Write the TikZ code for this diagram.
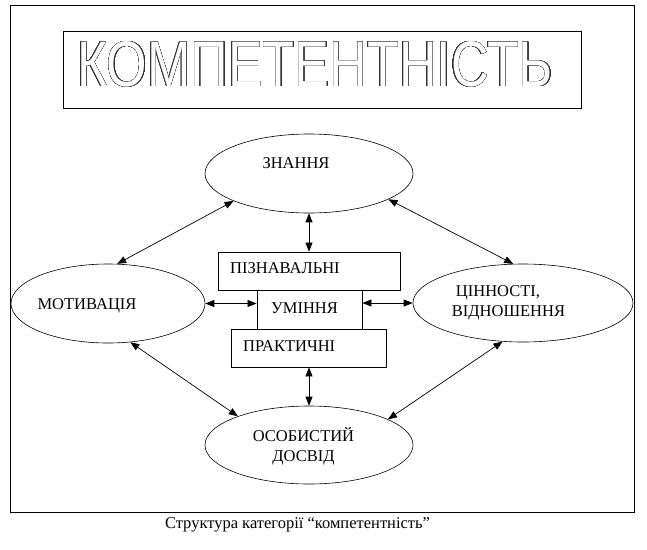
\documentclass[tikz,border=0pt]{standalone}
\usepackage{fontspec}
\usepackage[copies]{contour}
\contourlength{0.42pt}
\contournumber{48}
\setmainfont{Liberation Serif}
\newfontfamily\titlefont{Liberation Sans}
\usetikzlibrary{shapes.geometric,arrows.meta}
\tikzset{
  oval/.style={draw, ellipse, inner sep=0pt, line width=0.6pt},
  box/.style={draw, rectangle, inner sep=0pt, line width=0.8pt},
  frm/.style={draw, rectangle, inner sep=0pt, line width=0.9pt},
  lbl/.style={font=\fontsize{16.5}{20}\selectfont, inner sep=0pt, align=center},
  link/.style={{Triangle[length=9pt,width=7pt]}-{Triangle[length=9pt,width=7pt]}, line width=0.7pt},
}
\begin{document}
\begin{tikzpicture}[x=1pt,y=-1pt]
\useasboundingbox (0,0) rectangle (647,549);
\node[frm, minimum width=624pt, minimum height=507pt] (frame) at (322,258.5) {};
\node[frm, minimum width=518pt, minimum height=77pt] (titlebox) at (322,69.5) {};
\node[inner sep=0pt] (title) at (315,64.5) {\resizebox{476pt}{45pt}{\titlefont\fontsize{61}{61}\selectfont\contour{black!80}{\textcolor{white}{КОМПЕТЕНТНІСТЬ}}}};
% ellipses
\node[oval, minimum width=208pt, minimum height=79pt] (zn) at (309,173.5) {};
\node[lbl] (znt) at (296,163) {ЗНАННЯ};
\node[oval, minimum width=194pt, minimum height=79pt] (mot) at (108,303.5) {};
\node[lbl] (mott) at (87,306) {МОТИВАЦІЯ};
\node[oval, minimum width=220pt, minimum height=78pt] (cin) at (523,303) {};
\node[lbl] (cint) at (508.5,303) {ЦІННОСТІ,\rule{21pt}{0pt}\\ВІДНОШЕННЯ};
\node[oval, minimum width=208pt, minimum height=78pt] (os) at (309,445) {};
\node[lbl] (ost) at (303.5,446) {ОСОБИСТИЙ\\ДОСВІД};
% boxes
\node[box, minimum width=182pt, minimum height=38pt] (piz) at (309,271) {};
\node[box, minimum width=105pt, minimum height=39pt] (um) at (309.5,309.5) {};
\node[box, minimum width=155pt, minimum height=38pt] (prak) at (309,348) {};
\node[lbl, anchor=west] (pizt) at (230,268) {ПІЗНАВАЛЬНІ};
\node[lbl] (umt) at (304.5,308) {УМІННЯ};
\node[lbl, anchor=west] (prakt) at (243,346) {ПРАКТИЧНІ};
% connectors
\draw[link] (zn.south) -- (piz.north);
\draw[link] (prak.south) -- (os.north);
\draw[link] (mot.east) -- (mot.east -| um.west);
\draw[link] (um.east |- cin.west) -- (cin.west);
\draw[link] (zn.200) -- (mot.77);
\draw[link] (zn.342) -- (cin.104);
\draw[link] (mot.300) -- (os.158);
\draw[link] (cin.242) -- (os.18);
% caption
\node[lbl] (cap) at (297.5,525) {Структура категорії “компетентність”};
\end{tikzpicture}
\end{document}
